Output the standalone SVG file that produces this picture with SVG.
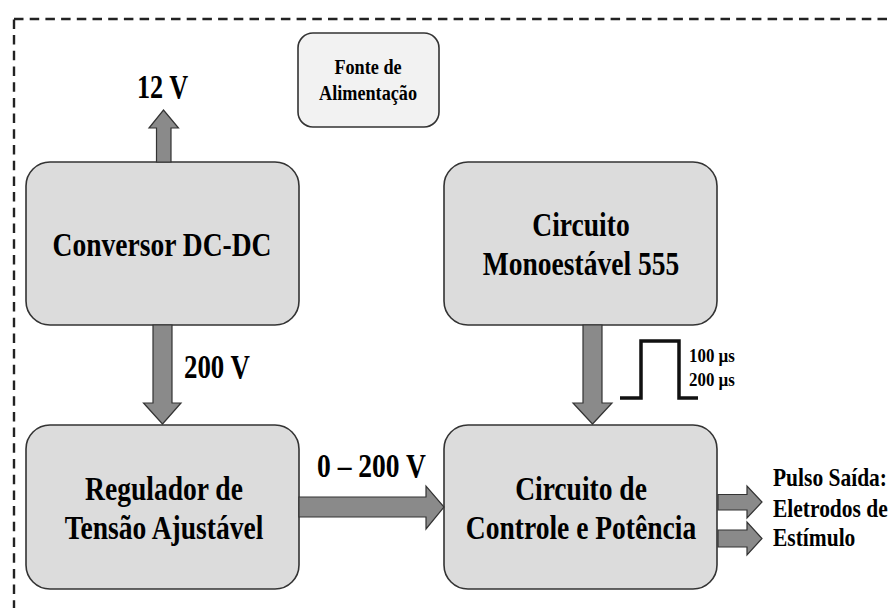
<svg xmlns="http://www.w3.org/2000/svg" width="889" height="608" viewBox="0 0 889 608">
  <style>
    .box { fill: #dcdcdc; stroke: #333; stroke-width: 1.6; }
    .psu { fill: #f2f2f2; stroke: #333; stroke-width: 1.6; }
    .arrow { fill: #8a8a8a; stroke: #333; stroke-width: 1.2; stroke-linejoin: miter; }
    text { font-family: "Liberation Serif", "Times New Roman", serif; font-weight: bold; fill: #000; }
    .big { font-size: 34px; text-anchor: middle; }
    .lbl { font-size: 34px; }
    .out { font-size: 25px; }
    .small { font-size: 20px; text-anchor: middle; }
    .tiny { font-size: 19px; }
  </style>
  <rect width="889" height="608" fill="#fff"/>

  <!-- enclosure boundary -->
  <rect x="14" y="19" width="900" height="620" fill="none" stroke="#222" stroke-width="2.4" stroke-dasharray="9.5 6.2"/>

  <g id="fonte">
    <rect class="psu" x="298" y="33" width="141" height="94" rx="15"/>
    <g transform="translate(368 0) scale(0.91 1)">
      <text class="small" x="0" y="74">Fonte de</text>
      <text class="small" x="0" y="100">Alimentação</text>
    </g>
  </g>

  <g id="conversor">
    <rect class="box" x="26" y="162" width="273" height="163" rx="24"/>
    <g transform="translate(162 0) scale(0.81 1)">
      <text class="big" x="0" y="256">Conversor DC-DC</text>
    </g>
  </g>

  <g id="monoestavel">
    <rect class="box" x="444" y="162" width="273" height="163" rx="24"/>
    <g transform="translate(581 0) scale(0.81 1)">
      <text class="big" x="0" y="236">Circuito</text>
      <text class="big" x="0" y="275">Monoestável 555</text>
    </g>
  </g>

  <g id="regulador">
    <rect class="box" x="26" y="425" width="273" height="164" rx="24"/>
    <g transform="translate(164 0) scale(0.81 1)">
      <text class="big" x="0" y="500">Regulador de</text>
      <text class="big" x="0" y="539">Tensão Ajustável</text>
    </g>
  </g>

  <g id="controle">
    <rect class="box" x="444" y="425" width="273" height="164" rx="24"/>
    <g transform="translate(581 0) scale(0.81 1)">
      <text class="big" x="0" y="500">Circuito de</text>
      <text class="big" x="0" y="539">Controle e Potência</text>
    </g>
  </g>

  <g id="connectors">
    <!-- 12 V output -->
    <polygon class="arrow" points="156.5,162 156.5,128 149,128 163.5,110 178.5,128 171,128 171,162"/>
    <!-- 200 V to regulator -->
    <polygon class="arrow" points="153,325 172,325 172,403 181,403 162.5,424 143.5,403 153,403"/>
    <!-- 0-200 V to control stage -->
    <polygon class="arrow" points="299,497 426,497 426,486 444,507 426,529 426,517 299,517"/>
    <!-- trigger from 555 -->
    <polygon class="arrow" points="583,325 602,325 602,403 612,403 592.5,424 573,403 583,403"/>
    <!-- electrode outputs -->
    <polygon class="arrow" points="718,494.5 747,494.5 747,486 762,502 747,518 747,510 718,510"/>
    <polygon class="arrow" points="718,530 747,530 747,522 762,538.5 747,555 747,547 718,547"/>
    <!-- pulse waveform -->
    <polyline points="620,398 641,398 641,341 679,341 679,398 698,398" fill="none" stroke="#111" stroke-width="3.5"/>
  </g>

  <g id="labels">
    <g transform="translate(162.5 0) scale(0.77 1)">
      <text class="lbl" x="0" y="98" text-anchor="middle">12 V</text>
    </g>
    <g transform="translate(184 0) scale(0.79 1)">
      <text class="lbl" x="0" y="378">200 V</text>
    </g>
    <g transform="translate(317 0) scale(0.81 1)">
      <text class="lbl" x="0" y="477">0 – 200 V</text>
    </g>
    <g transform="translate(689 0) scale(0.89 1)">
      <text class="tiny" x="0" y="362">100 µs</text>
      <text class="tiny" x="0" y="386">200 µs</text>
    </g>
    <g transform="translate(773 0) scale(0.86 1)">
      <text class="out" x="0" y="486">Pulso Saída:</text>
      <text class="out" x="0" y="517">Eletrodos de</text>
      <text class="out" x="0" y="546">Estímulo</text>
    </g>
  </g>
</svg>
